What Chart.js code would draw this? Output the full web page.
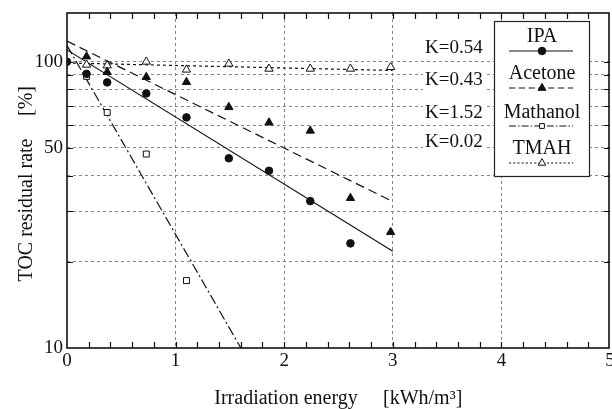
<!DOCTYPE html>
<html>
<head>
<meta charset="utf-8">
<title>TOC residual rate</title>
<script src="https://cdn.jsdelivr.net/npm/chart.js@4.4.1/dist/chart.umd.min.js"></script>
<style>
    html, body { margin: 0; padding: 0; background: #fff; }
    canvas { display: block; }
</style>
</head>
<body>
<canvas id="toc-chart" width="612" height="409"></canvas>
<script>
// Measured TOC residual rate [%] against irradiation energy [kWh/m3]
const energy   = [0, 0.18, 0.37, 0.73, 1.10, 1.49, 1.86, 2.24, 2.61, 2.98];
const ipa      = [100, 90.7, 84.7, 77.5, 63.9, 46.0, 41.6, 32.6, 23.2, null];
const acetone  = [null, 104.3, 92.0, 88.4, 84.9, 69.4, 61.3, 57.4, 33.4, 25.4];
const methanol = [null, 88.9, 66.5, 47.6, 17.2, null, null, null, null, null];
const tmah     = [null, 97.6, 97.0, 100, 93.8, 98.4, 94.5, 94.5, 94.5, 95.8];

// First-order fits: rate = start * exp(-K * energy)
const seriesNames = ['IPA', 'Acetone', 'Mathanol', 'TMAH'];
const kValues  = [0.54, 0.43, 1.52, 0.02];
const fitStart = [110, 118, 114, 99];
const fitEndX  = [3, 3, 1.6, 3];

const xLabels = [0, 1, 2, 3, 4, 5];
const yTicks  = [10, 20, 30, 40, 50, 60, 70, 80, 90, 100];
const yLabels = [10, 50, 100];

const INK = '#111';
const GRID = '#858585';
const SERIF = "'Liberation Serif', 'DejaVu Serif', serif";

const markers = [
    { style: 'circle',   radius: 3.8, fill: INK,    legendRadius: 3.8 },
    { style: 'triangle', radius: 4.8, fill: INK,    legendRadius: 4.6 },
    { style: 'rect',     radius: 4.2, fill: '#fff', legendRadius: 3.4 },
    { style: 'triangle', radius: 4.8, fill: '#fff', legendRadius: 4.4 }
];
const dashes = [[], [9, 5], [10, 3, 2, 3], [3, 3]];

function isWhole(v) {
    return Math.abs(v - Math.round(v)) < 1e-6;
}

function pointsOf(values) {
    return energy
        .map((x, i) => ({ x: x, y: values[i] }))
        .filter(p => p.y !== null);
}

const measured = [ipa, acetone, methanol, tmah];

const pointSets = measured.map((vals, i) => ({
    label: seriesNames[i],
    data: pointsOf(vals),
    showLine: false,
    pointStyle: markers[i].style,
    pointRadius: markers[i].radius,
    pointBackgroundColor: markers[i].fill,
    pointBorderColor: INK,
    pointBorderWidth: 1
}));

const fitSets = kValues.map((k, i) => ({
    label: seriesNames[i] + ' fit',
    data: [
        { x: 0, y: fitStart[i] },
        { x: fitEndX[i], y: fitStart[i] * Math.exp(-k * fitEndX[i]) }
    ],
    showLine: true,
    borderColor: INK,
    borderWidth: 1.2,
    borderDash: dashes[i],
    pointRadius: 0
}));

// Frame, inward tick marks, K labels, legend box and axis titles
const decorPlugin = {
    id: 'decor',
    afterDatasetsDraw(chart) {
        const ctx = chart.ctx;
        const a = chart.chartArea;
        const xs = chart.scales.x;
        const ys = chart.scales.y;

        ctx.save();
        ctx.strokeStyle = INK;
        ctx.setLineDash([]);

        ctx.lineWidth = 1.2;
        ctx.beginPath();
        xs.ticks.forEach(t => {
            if (t.value <= 0 || t.value >= 5) return;
            const px = Math.round(xs.getPixelForValue(t.value)) + 0.5;
            ctx.moveTo(px, a.bottom);
            ctx.lineTo(px, a.bottom - 6);
            ctx.moveTo(px, a.top);
            ctx.lineTo(px, a.top + 6);
        });
        ys.ticks.forEach(t => {
            if (t.value <= 10) return;
            const py = Math.round(ys.getPixelForValue(t.value)) + 0.5;
            ctx.moveTo(a.left, py);
            ctx.lineTo(a.left + 6, py);
            ctx.moveTo(a.right, py);
            ctx.lineTo(a.right - 6, py);
        });
        ctx.stroke();

        ctx.lineWidth = 1.6;
        ctx.strokeRect(a.left, a.top, a.right - a.left - 1, a.bottom - a.top);

        // K values of the fitted lines
        ctx.font = '19px ' + SERIF;
        ctx.textBaseline = 'middle';
        ctx.textAlign = 'left';
        const kY = [48, 80, 113, 142];
        kValues.forEach((k, i) => {
            const txt = 'K=' + k.toFixed(2);
            const w = ctx.measureText(txt).width;
            ctx.fillStyle = '#fff';
            ctx.fillRect(423, kY[i] - 10, w + 4, 20);
            ctx.fillStyle = INK;
            ctx.fillText(txt, 425, kY[i]);
        });

        // legend
        const box = { left: 494, top: 21, right: 589, bottom: 176 };
        ctx.fillStyle = '#fff';
        ctx.fillRect(box.left, box.top, box.right - box.left, box.bottom - box.top);
        ctx.lineWidth = 1.2;
        ctx.strokeStyle = '#222';
        ctx.strokeRect(box.left + 0.5, box.top + 0.5, box.right - box.left, box.bottom - box.top);

        const textY = [37, 74, 113, 149];
        const sampleY = [51, 88, 126, 163];
        const cx = 542;
        ctx.font = '20px ' + SERIF;
        ctx.textAlign = 'center';
        seriesNames.forEach((name, i) => {
            ctx.fillStyle = INK;
            ctx.fillText(name, cx, textY[i]);

            ctx.strokeStyle = INK;
            ctx.lineWidth = 1.1;
            ctx.setLineDash(dashes[i].map(d => d * 0.7));
            ctx.beginPath();
            ctx.moveTo(509, sampleY[i]);
            ctx.lineTo(573, sampleY[i]);
            ctx.stroke();
            ctx.setLineDash([]);

            ctx.fillStyle = markers[i].fill;
            ctx.lineWidth = 1;
            Chart.helpers.drawPoint(ctx, {
                pointStyle: markers[i].style,
                radius: markers[i].legendRadius,
                rotation: 0,
                borderWidth: 1
            }, cx, sampleY[i]);
        });

        // axis titles
        ctx.fillStyle = INK;
        ctx.font = '20px ' + SERIF;
        ctx.textBaseline = 'alphabetic';
        ctx.textAlign = 'center';
        ctx.fillText('Irradiation energy', 286, 404);
        ctx.textAlign = 'left';
        ctx.fillText('[kWh/m\u00B3]', 383, 404);

        ctx.translate(27, 0);
        ctx.rotate(-Math.PI / 2);
        ctx.textBaseline = 'middle';
        ctx.textAlign = 'center';
        ctx.fillText('TOC residual rate', -210, 0);
        ctx.fillText('[%]', -101, 0);

        ctx.restore();
    }
};

new Chart(document.getElementById('toc-chart'), {
    type: 'scatter',
    data: { datasets: pointSets.concat(fitSets) },
    options: {
        responsive: false,
        animation: false,
        devicePixelRatio: 1,
        layout: {
            autoPadding: false,
            padding: { top: 13, right: 2, left: 0, bottom: 0 }
        },
        plugins: {
            legend: { display: false },
            tooltip: { enabled: false }
        },
        scales: {
            x: {
                type: 'linear',
                min: xLabels[0],
                max: xLabels[xLabels.length - 1],
                afterFit: scale => {
                    scale.height = 61;
                    // let the last label run off the edge instead of shrinking the plot
                    scale.paddingLeft = 0;
                    scale.paddingRight = 0;
                },
                ticks: {
                    stepSize: 0.2,
                    autoSkip: false,
                    maxRotation: 0,
                    padding: 2,
                    color: INK,
                    font: { family: SERIF, size: 19 },
                    callback: v => (isWhole(v) && xLabels.includes(Math.round(v))) ? String(Math.round(v)) : ''
                },
                grid: {
                    drawTicks: false,
                    lineWidth: 1,
                    color: c => {
                        const v = c.tick.value;
                        return (isWhole(v) && v > 0.5 && v < 4.5) ? GRID : 'rgba(0,0,0,0)';
                    }
                },
                border: { display: false, dash: [3, 3] }
            },
            y: {
                type: 'logarithmic',
                min: 10,
                max: 148,
                afterFit: scale => {
                    scale.width = 67;
                    scale.paddingTop = 0;
                    scale.paddingBottom = 0;
                },
                afterBuildTicks: scale => {
                    scale.ticks = yTicks.map(v => ({ value: v }));
                },
                ticks: {
                    autoSkip: false,
                    padding: 4,
                    color: INK,
                    font: { family: SERIF, size: 19 },
                    callback: v => yLabels.includes(v) ? String(v) : ''
                },
                grid: {
                    drawTicks: false,
                    lineWidth: 1,
                    color: c => (c.tick.value > 10 ? GRID : 'rgba(0,0,0,0)')
                },
                border: { display: false, dash: [3, 3] }
            }
        }
    },
    plugins: [decorPlugin]
});
</script>
</body>
</html>
